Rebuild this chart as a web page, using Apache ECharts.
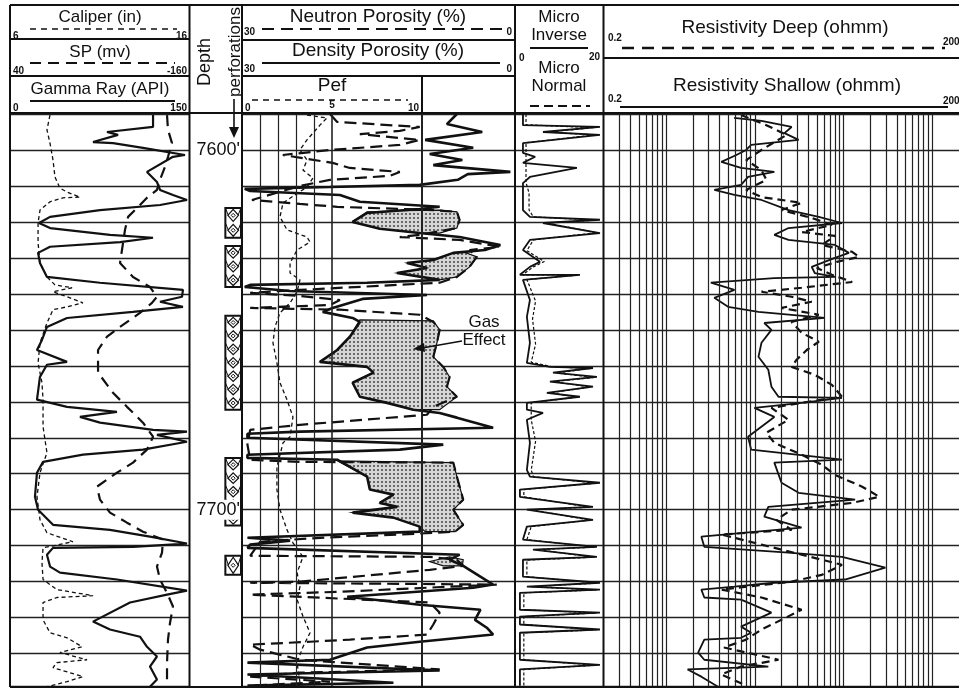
<!DOCTYPE html>
<html><head><meta charset="utf-8">
<script src="https://cdn.jsdelivr.net/npm/echarts@6/dist/echarts.min.js"></script>
<style>html,body{margin:0;padding:0;background:#fff}#c{width:959px;height:688px}</style>
</head><body><div id="c"></div>
<script>
// ---------- DATA ----------
const depthLabelValues = [7600, 7700];
const depthLabels = ["7600'", "7700'"];
const perforations = [[7616.1,7624.4],[7626.7,7638.1],[7646.1,7672.2],[7685.6,7704.4],[7712.8,7718.1]];

const gammaRay = [[119.7,7590.3],[119.7,7593.6],[80.9,7595.0],[90.2,7595.8],[69.1,7597.8],[86.0,7598.1],[111.2,7599.4],[146.6,7601.4],[136.5,7601.9],[114.6,7606.1],[123.0,7608.9],[125.6,7611.1],[136.5,7612.5],[148.3,7613.9],[125.6,7615.3],[75.0,7616.7],[32.9,7618.6],[23.6,7620.3],[32.9,7621.7],[83.4,7623.6],[119.7,7624.4],[91.9,7625.6],[32.9,7626.9],[22.8,7628.6],[24.4,7631.4],[30.3,7635.3],[75.0,7636.9],[144.9,7638.9],[144.1,7640.8],[125.6,7642.2],[144.9,7643.6],[102.8,7645.0],[47.2,7646.7],[30.3,7649.2],[26.1,7652.8],[21.9,7655.6],[47.2,7658.9],[30.3,7659.7],[24.4,7663.1],[21.9,7669.4],[47.2,7671.4],[89.3,7672.8],[58.1,7674.2],[75.0,7675.8],[119.7,7677.8],[148.3,7678.3],[123.0,7679.2],[148.3,7681.1],[111.2,7683.3],[60.7,7684.7],[27.0,7686.7],[21.9,7689.7],[20.2,7696.4],[22.8,7700.0],[35.4,7704.2],[83.4,7705.6],[117.1,7707.5],[148.3,7709.4],[102.8,7710.3],[35.4,7710.6],[30.3,7712.5],[32.9,7715.8],[41.3,7717.5],[89.3,7719.4],[148.3,7722.5],[131.5,7723.6],[100.3,7725.8],[69.1,7731.1],[83.4,7733.3],[108.7,7735.3],[114.6,7738.1],[123.0,7740.8],[117.1,7743.6],[123.0,7747.2],[117.1,7749.2]];

const spCurve = [[-135.3,7590.3],[-136.4,7594.4],[-140.9,7598.1],[-136.4,7601.9],[-133.0,7604.7],[-127.4,7608.3],[-124.0,7611.1],[-112.8,7613.3],[-104.9,7615.3],[-91.5,7618.6],[-88.1,7622.2],[-84.7,7627.8],[-82.5,7631.4],[-97.1,7635.3],[-116.2,7638.1],[-124.0,7640.8],[-118.4,7642.5],[-104.9,7645.3],[-82.5,7649.2],[-67.9,7651.9],[-57.8,7655.6],[-57.8,7661.9],[-74.6,7667.5],[-90.3,7671.4],[-93.7,7672.2],[-108.3,7675.8],[-119.6,7679.7],[-112.8,7683.3],[-97.1,7686.9],[-79.1,7689.7],[-56.6,7693.6],[-60.0,7697.2],[-71.2,7700.8],[-90.3,7703.6],[-108.3,7706.1],[-130.8,7708.3],[-129.7,7711.9],[-124.0,7715.8],[-127.4,7719.4],[-135.3,7723.1],[-142.0,7726.9],[-138.7,7731.4],[-136.4,7736.1],[-135.3,7742.5],[-135.3,7749.2]];

const caliper = [[8.19,7590.3],[8.02,7594.4],[8.19,7598.1],[8.36,7602.8],[8.47,7607.5],[8.75,7610.6],[9.15,7611.7],[9.88,7613.1],[8.92,7613.3],[8.19,7614.4],[7.63,7616.7],[7.52,7620.3],[7.52,7625.8],[7.63,7631.4],[8.02,7635.3],[8.47,7637.5],[9.43,7638.3],[8.36,7639.4],[9.15,7640.8],[10.04,7642.5],[9.15,7643.6],[8.36,7644.4],[8.02,7648.1],[7.63,7653.6],[7.52,7659.2],[7.74,7664.7],[7.80,7669.4],[7.80,7676.9],[8.02,7684.2],[7.63,7689.7],[7.46,7696.4],[7.63,7702.8],[8.02,7706.4],[9.48,7708.9],[7.80,7710.6],[7.74,7714.7],[7.80,7719.4],[8.58,7722.2],[10.61,7723.9],[8.58,7724.4],[7.80,7725.8],[7.80,7730.6],[8.19,7734.2],[9.15,7735.6],[9.99,7738.1],[8.75,7739.7],[10.27,7741.7],[8.58,7742.5],[8.36,7743.9],[10.04,7746.4],[9.15,7747.8],[8.02,7749.2]];

const densityPorosity = [[6.3,7590.0],[7.4,7592.8],[3.5,7595.0],[9.8,7597.2],[4.5,7599.4],[9.3,7601.1],[5.7,7602.8],[8.9,7604.2],[0.4,7606.1],[5.1,7606.7],[6.2,7608.3],[10.4,7609.7],[20.3,7610.3],[29.7,7610.8],[29.1,7611.4],[19.2,7612.5],[17.0,7614.4],[8.2,7615.8],[10.4,7616.4],[16.2,7617.5],[17.8,7620.0],[14.8,7621.9],[10.4,7623.1],[6.0,7624.2],[1.5,7626.4],[3.2,7627.8],[6.7,7628.6],[8.9,7630.6],[11.8,7631.4],[9.6,7632.8],[12.9,7634.2],[8.2,7636.1],[16.2,7636.9],[29.1,7637.5],[29.7,7638.1],[24.7,7639.2],[9.6,7640.3],[16.7,7641.4],[20.0,7643.9],[21.1,7645.0],[17.8,7646.7],[17.0,7647.8],[18.1,7651.9],[19.5,7655.6],[21.4,7658.9],[16.2,7660.3],[15.5,7661.9],[17.8,7664.7],[17.0,7668.6],[14.0,7670.3],[11.1,7672.2],[8.2,7673.1],[6.3,7674.4],[2.3,7677.2],[23.6,7678.3],[29.4,7678.9],[29.4,7680.0],[7.8,7681.9],[12.6,7683.3],[29.4,7684.7],[29.4,7685.6],[19.5,7686.1],[16.2,7690.8],[15.9,7694.4],[13.3,7695.8],[14.8,7698.1],[12.9,7699.2],[17.8,7700.8],[13.3,7702.2],[10.4,7704.7],[10.4,7706.1],[29.4,7707.8],[24.7,7708.6],[29.1,7709.7],[29.4,7710.6],[6.0,7712.5],[7.1,7713.9],[5.6,7715.6],[4.9,7716.7],[2.3,7720.8],[4.5,7721.7],[18.4,7724.2],[10.4,7726.4],[3.7,7727.8],[4.3,7730.6],[3.0,7732.8],[2.3,7734.7],[10.4,7736.7],[16.2,7738.3],[20.3,7741.7],[29.4,7742.5],[8.2,7744.7],[29.4,7745.8],[13.3,7748.1],[29.4,7748.9]];

const neutronPorosity = [[20.3,7590.0],[19.5,7592.2],[10.4,7593.6],[12.6,7594.7],[17.0,7595.6],[10.4,7597.2],[12.6,7598.6],[20.3,7600.0],[25.5,7601.4],[20.0,7603.6],[18.1,7605.0],[12.6,7606.1],[13.7,7607.2],[20.3,7608.3],[23.6,7610.0],[28.9,7613.9],[23.6,7615.0],[19.5,7615.8],[8.9,7616.7],[6.3,7617.2],[6.0,7619.4],[6.3,7621.7],[10.4,7623.6],[12.6,7624.2],[6.0,7625.0],[1.5,7626.9],[4.9,7627.8],[4.1,7629.7],[4.9,7632.5],[6.3,7635.3],[8.2,7636.9],[23.6,7638.9],[29.1,7639.7],[23.6,7640.6],[19.2,7641.7],[20.3,7643.1],[29.1,7643.9],[19.2,7644.4],[10.4,7645.8],[8.9,7647.8],[8.2,7650.0],[8.5,7653.6],[8.9,7657.5],[7.8,7660.3],[7.1,7663.1],[7.4,7665.8],[6.3,7668.6],[8.9,7671.4],[9.6,7673.6],[23.6,7676.4],[29.1,7677.8],[29.4,7681.9],[29.1,7686.1],[23.6,7686.7],[6.7,7686.9],[6.3,7690.8],[5.6,7697.2],[6.7,7700.0],[5.6,7704.2],[6.5,7706.1],[12.6,7706.9],[21.4,7707.8],[28.0,7708.9],[29.1,7712.8],[9.3,7713.1],[6.3,7713.9],[5.6,7715.6],[9.3,7716.7],[23.6,7720.0],[29.1,7720.3],[1.9,7720.8],[19.2,7722.8],[29.1,7723.6],[9.3,7725.8],[8.2,7728.6],[8.9,7731.9],[9.6,7734.7],[18.1,7736.1],[22.5,7736.7],[29.1,7737.5],[28.0,7738.9],[23.6,7741.7],[8.2,7744.4],[23.6,7745.3],[29.1,7746.4],[20.3,7747.8],[29.1,7748.9]];

const pef = [[3.61,7590.3],[4.72,7591.1],[4.33,7593.1],[3.61,7597.2],[3.22,7600.0],[3.61,7602.8],[3.39,7605.6],[3.94,7607.8],[3.61,7610.3],[2.28,7614.7],[2.11,7618.6],[2.5,7622.2],[3.61,7624.2],[3.78,7625.6],[3.06,7627.8],[2.67,7631.4],[2.67,7634.2],[3.22,7636.1],[3.06,7639.4],[2.67,7642.5],[2.11,7645.3],[1.83,7649.2],[1.72,7653.6],[1.94,7659.2],[2.11,7664.7],[2.5,7669.4],[2.83,7674.2],[2.67,7679.7],[2.28,7681.4],[1.94,7688.1],[1.94,7694.4],[2.11,7700.0],[2.5,7705.6],[2.83,7709.2],[3.39,7713.1],[3.06,7717.5],[3.22,7721.4],[3.06,7725.0],[3.39,7729.7],[3.78,7734.2],[3.39,7738.1],[3.06,7742.5],[3.22,7748.1]];

const gasZones = [
  [[16.2,7617.2],[12.6,7616.9],[8.2,7616.7],[6.3,7617.2],[6.0,7619.4],[6.3,7621.7],[8.2,7623.1],[10.4,7623.1],[14.8,7621.9],[17.8,7620.0]],
  [[5.6,7628.3],[4.1,7629.7],[4.9,7632.5],[6.3,7635.3],[8.2,7636.1],[12.9,7634.2],[9.6,7632.8],[11.8,7631.4],[8.9,7630.6],[6.7,7628.6]],
  [[17.0,7647.2],[18.1,7651.9],[19.5,7655.6],[21.4,7658.9],[16.2,7660.3],[15.5,7661.9],[17.8,7664.7],[17.0,7668.6],[14.0,7670.3],[11.1,7672.2],[8.2,7672.2],[6.3,7668.6],[7.4,7665.8],[7.1,7663.1],[7.8,7660.3],[8.9,7657.5],[8.5,7653.6],[8.2,7650.0],[8.9,7647.5]],
  [[19.5,7686.4],[16.2,7690.8],[15.9,7694.4],[13.3,7695.8],[14.8,7698.1],[12.9,7699.2],[17.8,7700.8],[13.3,7702.2],[10.4,7704.7],[9.8,7706.1],[6.5,7706.1],[5.6,7704.2],[6.7,7700.0],[5.6,7697.2],[6.3,7690.8],[6.7,7686.9]],
  [[9.3,7714.4],[7.1,7713.1],[5.6,7713.9],[5.7,7715.6],[7.8,7715.6]]
];

const microInverse = [[1.6,7590.0],[1.6,7593.1],[19.3,7593.6],[6.2,7595.0],[19.3,7595.8],[1.6,7598.1],[1.6,7600.8],[4.4,7601.9],[1.6,7603.6],[14.0,7605.0],[3.2,7607.5],[1.6,7609.2],[1.6,7616.7],[3.2,7618.6],[19.3,7619.4],[6.2,7620.3],[19.3,7623.1],[3.2,7625.0],[1.6,7627.8],[5.5,7631.1],[3.2,7632.5],[0.9,7634.7],[14.7,7634.7],[1.6,7636.1],[3.2,7641.7],[2.5,7646.4],[3.2,7653.6],[2.5,7659.2],[7.8,7660.3],[17.7,7660.6],[8.5,7661.9],[18.6,7663.1],[7.8,7664.4],[17.7,7665.8],[7.1,7667.5],[14.7,7668.6],[2.5,7670.3],[2.5,7672.2],[6.2,7673.1],[2.5,7675.0],[3.2,7681.4],[2.5,7688.9],[3.2,7690.8],[19.3,7692.5],[0.9,7694.4],[0.9,7696.4],[17.7,7699.2],[2.5,7700.0],[17.7,7702.8],[2.5,7704.7],[1.6,7708.3],[18.6,7710.3],[3.9,7711.1],[18.6,7713.1],[1.6,7713.9],[1.6,7718.6],[19.3,7720.3],[2.5,7721.4],[19.3,7722.2],[0.9,7723.1],[0.9,7727.8],[19.3,7728.6],[0.9,7729.7],[0.9,7731.9],[19.3,7733.3],[0.9,7734.2],[0.9,7741.7],[19.3,7743.1],[0.9,7744.4],[0.9,7748.9]];

const microNormal = [[2.3,7590],[2.3,7593],[18,7593.8],[7,7595],[18,7595.8],[2.3,7598],[2.3,7609],[3,7612],[3,7616.7],[4,7618.6],[18.5,7619.5],[7,7620.3],[18.5,7623],[4,7625],[2.5,7628],[6.5,7631],[4,7632.5],[1.5,7634.7],[14,7634.8],[2.5,7636],[4.5,7642],[3.8,7647],[4.5,7654],[3.5,7659],[8.5,7660.3],[17,7660.7],[9.5,7662],[18,7663.2],[8.5,7664.4],[17,7665.9],[8,7667.5],[14,7668.7],[3.5,7670.3],[3.5,7675],[4.5,7681],[3.5,7689],[4,7690.8],[18.5,7692.6],[1.8,7694.4],[1.8,7696.4],[17,7699.3],[3.5,7700],[17,7702.9],[3.5,7704.7],[2.5,7708.3],[18,7710.4],[4.8,7711.1],[18,7713.2],[2.5,7714],[2.5,7718.6],[18.5,7720.4],[3.5,7721.4],[18.5,7722.3],[1.8,7723.1],[1.8,7727.8],[18.5,7728.7],[1.8,7729.7],[1.8,7731.9],[18.5,7733.4],[1.8,7734.2],[1.8,7741.7],[18.5,7743.2],[1.8,7744.4],[1.8,7749]];

const resShallow = [[5.85,7591.1],[11.9,7591.9],[26.0,7593.6],[21.6,7595.3],[31.2,7597.2],[9.1,7598.6],[8.0,7600.0],[6.2,7601.4],[4.2,7603.3],[7.0,7605.0],[16.6,7606.1],[8.4,7607.5],[7.0,7609.7],[3.5,7611.1],[5.9,7612.5],[11.9,7613.9],[24.0,7616.7],[52.6,7618.6],[96,7620.3],[24.0,7621.7],[16.6,7623.6],[24.0,7625.0],[80,7626.4],[115,7628.6],[80,7630.0],[43.8,7632.5],[47.4,7634.2],[80,7635.3],[16.6,7635.6],[3.2,7636.9],[5.9,7638.9],[3.5,7641.1],[5.0,7643.6],[11.0,7645.0],[61.6,7646.7],[12.8,7648.1],[15.4,7650.0],[11.9,7653.6],[11.0,7657.5],[14.2,7661.1],[15.4,7665.8],[18.5,7668.6],[96,7668.9],[33.7,7670.3],[9.9,7671.7],[16.6,7674.2],[8.4,7679.7],[9.1,7683.3],[96,7686.1],[16.6,7686.9],[20.0,7692.5],[31.2,7695.3],[135,7697.2],[14.2,7699.2],[12.8,7701.9],[33.7,7705.0],[2.5,7707.5],[2.7,7710.3],[24.0,7711.9],[96,7713.1],[296,7716.1],[104,7719.4],[16.6,7720.3],[5.9,7721.4],[2.5,7722.2],[2.7,7724.4],[7.0,7725.0],[15.4,7728.6],[7.0,7732.5],[9.1,7734.2],[7.0,7735.6],[2.7,7736.1],[2.3,7739.7],[2.7,7741.7],[14.2,7743.6],[1.75,7744.4],[2.5,7746.4],[3.85,7749.2]];

const resDeep = [[7.0,7590.3],[13.5,7593.1],[22.8,7595.8],[11.9,7600.0],[8.0,7602.8],[11.9,7605.6],[13.5,7608.3],[8.0,7611.1],[11.9,7613.1],[33.7,7614.7],[20.0,7616.7],[43.8,7618.9],[74,7620.8],[33.7,7622.8],[80,7623.9],[57,7626.4],[125,7628.3],[150,7629.7],[84,7631.1],[50,7632.8],[74,7634.7],[125,7636.7],[33.7,7638.3],[11.9,7639.4],[26.0,7640.8],[43.8,7642.2],[20.0,7643.9],[52.6,7645.8],[26.0,7647.8],[33.7,7650.8],[52.6,7653.3],[38.5,7655.6],[29.6,7658.3],[26.0,7660.3],[47.4,7662.5],[74,7665.3],[96,7668.6],[33.7,7670.3],[15.4,7671.7],[24.0,7675.0],[13.5,7678.6],[16.6,7681.4],[33.7,7684.7],[57,7687.5],[80,7690.3],[162,7693.6],[253,7696.4],[125,7698.1],[26.0,7700.0],[17.5,7702.8],[26.0,7705.6],[4.2,7706.9],[11.9,7709.7],[33.7,7712.5],[96,7715.3],[57,7718.1],[26.0,7720.0],[4.2,7722.2],[11.9,7724.4],[33.7,7727.8],[20.0,7730.6],[11.9,7733.3],[8.0,7736.1],[4.5,7738.3],[18.5,7741.7],[7.0,7743.6],[4.2,7745.8],[8.0,7748.9]];

const resGridValues = [0.3,0.4,0.5,0.6,0.7,0.8,0.9,1,2,3,4,5,6,7,8,9,10,20,30,40,50,60,70,80,90,100,200,300,400,500,600,700,800,900,1000];
const pefGridValues = [1,2,3,4,5,10];

// ---------- CHART ----------
const FONT = "'Liberation Sans', Arial, sans-serif";
const INK = '#111';
const DMIN = 7590, DMAX = 7749;

const pc = document.createElement('canvas');
pc.width = 4; pc.height = 4;
const pctx = pc.getContext('2d');
pctx.fillStyle = '#d6d6d6'; pctx.fillRect(0,0,4,4);
pctx.fillStyle = '#6a6a6a'; pctx.fillRect(1,1,2,2);
const gasPattern = {image: pc, repeat: 'repeat'};

function yax(gi, split){
  return {type:'value', gridIndex:gi, min:DMIN, max:DMAX, interval:10, inverse:true,
    axisLine:{show:false}, axisTick:{show:false}, axisLabel:{show:false},
    splitLine:{show:split, lineStyle:{color:'#222', width:1.3}}};
}
function xax(gi, o){
  return Object.assign({type:'value', gridIndex:gi, axisLine:{show:false}, axisTick:{show:false},
    axisLabel:{show:false}, splitLine:{show:false}}, o);
}
function ln(xi, yi, data, style, extra){
  return Object.assign({type:'line', xAxisIndex:xi, yAxisIndex:yi, data:data, symbol:'none',
    lineStyle:Object.assign({color:INK}, style), silent:true, animation:false, z:3}, extra||{});
}
function vlines(vals, widthFn){
  return {symbol:['none','none'], silent:true, animation:false, label:{show:false},
    lineStyle:{color:'#222', width:1.2, type:'solid'},
    emphasis:{disabled:true},
    data: vals.map(v=>({xAxis:v, lineStyle:{color:'#222', type:'solid', width: widthFn ? widthFn(v) : 1.2}}))};
}

const G = [];
function L(x1,y1,x2,y2,w,dash){ G.push({type:'line', silent:true, z:100, shape:{x1,y1,x2,y2}, style:{stroke:INK, lineWidth:w||2, lineDash:dash||null}}); }
function T(text,x,y,size,align,rot,bold){
  G.push({type:'text', silent:true, z:101, x:x, y:y, rotation:rot||0,
    style:{text:text, font:(bold?'bold ':'')+size+'px '+FONT, fill:INK, align:align||'center', verticalAlign:'middle', textAlign:align||'center', textVerticalAlign:'middle'}});
}

// frame
L(10,5,959,5,2); L(10,5,10,687,2); L(10,687,959,687,2); L(10,113,959,113,2);
L(189.5,5,189.5,687,2); L(242,5,242,687,2); L(515,5,515,687,2); L(603.5,5,603.5,687,2);
L(10,39,189.5,39,2); L(10,76,189.5,76,2);
L(242,40,515,40,2); L(242,76,515,76,2); L(422,76,422,113,2);
L(603.5,58,959,58,2);
// track 1 header
T('Caliper (in)',100,17,17); L(30,29,177,29,1.6,[6,5]);
T('6',13,36,10,'left',0,true); T('16',187,36,10,'right',0,true);
T('SP (mv)',100,52,17); L(30,63,175,63,2.2,[11,7]);
T('40',13,71,10,'left',0,true); T('-160',187,71,10,'right',0,true);
T('Gamma Ray (API)',100,89,17); L(30,101,175,101,2);
T('0',13,108,10,'left',0,true); T('150',187,108,10,'right',0,true);
// depth header
T('Depth',205,62,18,'center',Math.PI/2); T('perforations',235,52,17,'center',Math.PI/2);
L(234,99,234,131,1.6);
G.push({type:'polygon', silent:true, z:101, shape:{points:[[229,127],[239,127],[234,138]]}, style:{fill:INK}});
// track 2 header
T('Neutron Porosity (%)',378,17,19); L(262,29,505,29,2,[12,7]);
T('30',244,32,10,'left',0,true); T('0',512,32,10,'right',0,true);
T('Density Porosity (%)',378,51,19); L(262,63,500,63,2);
T('30',244,69,10,'left',0,true); T('0',512,69,10,'right',0,true);
T('Pef',332,86,19); L(252,100,408,100,1.6,[6,5]);
T('0',245,108,10,'left',0,true); T('5',332,105,10,'center',0,true); T('10',419,108,10,'right',0,true);
// micro header
T('Micro',559,17,17); T('Inverse',559,35,17); L(530,48,588,48,2);
T('0',519,58,10,'left',0,true); T('20',600,57,10,'right',0,true);
T('Micro',559,68,17); T('Normal',559,86,17); L(530,106,590,106,2,[9,5]);
// resistivity header
T('Resistivity Deep (ohmm)',785,28,19);
T('0.2',608,38,10,'left',0,true); T('2000',943,42,10,'left',0,true);
L(622,48,945,48,2.5,[12,8]);
T('Resistivity Shallow (ohmm)',787,86,19);
T('0.2',608,99,10,'left',0,true); T('2000',943,101,10,'left',0,true);
L(620,107,948,107,2);
// gas effect annotation
T('Gas',484,322,17); T('Effect',484,340,17);
L(462,341,422,348,1.6);
G.push({type:'polygon', silent:true, z:101, shape:{points:[[413,349],[424,343],[425,352]]}, style:{fill:INK}});

const option = {
  animation:false,
  backgroundColor:'#fff',
  grid:[
    {left:11, top:114, width:178, height:572},
    {left:190, top:114, width:52, height:572},
    {left:242, top:114, width:272, height:572},
    {left:242, top:114, width:180, height:572},
    {left:516, top:114, width:87, height:572},
    {left:604, top:114, width:356, height:572}
  ],
  xAxis:[
    xax(0,{min:0,max:150}),
    xax(0,{min:-160,max:40,inverse:true}),
    xax(0,{min:6,max:16}),
    xax(1,{min:0,max:1}),
    xax(2,{min:0,max:30,inverse:true}),
    xax(3,{min:0,max:10}),
    xax(4,{min:0,max:20}),
    xax(5,{type:'log', logBase:10, min:0.2, max:2000})
  ],
  yAxis:[
    yax(0,true),
    {type:'value', gridIndex:1, min:DMIN, max:DMAX, interval:10, inverse:true, position:'right', z:20,
      axisLine:{show:false}, axisTick:{show:false}, splitLine:{show:false},
      axisLabel:{show:true, inside:true, margin:2, fontSize:18, fontFamily:FONT, color:INK,
        backgroundColor:'#fff', padding:[1,0,1,1],
        formatter:function(v){ const i = depthLabelValues.indexOf(v); return i>=0 ? depthLabels[i] : ''; }}},
    yax(2,true),
    yax(3,false),
    yax(4,true),
    yax(5,true)
  ],
  graphic:{elements:G},
  series:[
    // perforations
    {type:'custom', xAxisIndex:3, yAxisIndex:1, silent:true, animation:false, z:1,
      data: perforations.map(p=>[0.84, p[0], p[1]]),
      encode:{x:0, y:[1,2]},
      renderItem:function(params, api){
        const a = api.coord([0.68, api.value(1)]);
        const b = api.coord([1, api.value(2)]);
        const x0=a[0], y0=a[1], x1=b[0]-1, y1=b[1];
        const n = Math.max(1, Math.round((y1-y0)/13));
        const h = (y1-y0)/n, cx=(x0+x1)/2;
        const ch = [{type:'rect', shape:{x:x0,y:y0,width:x1-x0,height:y1-y0}, style:{fill:'#fff', stroke:INK, lineWidth:2}}];
        for(let i=0;i<n;i++){
          const t=y0+i*h, bt=t+h, cy=t+h/2;
          ch.push({type:'polygon', shape:{points:[[cx,t+1.5],[x1-2.5,cy],[cx,bt-1.5],[x0+2.5,cy]]}, style:{fill:'none', stroke:INK, lineWidth:1.2}});
          ch.push({type:'polygon', shape:{points:[[cx,cy-2],[cx+2,cy],[cx,cy+2],[cx-2,cy]]}, style:{fill:'none', stroke:INK, lineWidth:1}});
          ch.push({type:'line', shape:{x1:x0,y1:t,x2:x0+3,y2:cy}, style:{stroke:INK, lineWidth:1}});
          ch.push({type:'line', shape:{x1:x1,y1:t,x2:x1-3,y2:cy}, style:{stroke:INK, lineWidth:1}});
        }
        return {type:'group', children:ch};
      }},
    // gas shading
    {type:'custom', xAxisIndex:4, yAxisIndex:2, silent:true, animation:false, z:2,
      data: gasZones.map((z,i)=>[15, 7650, i]),
      encode:{x:0, y:1},
      renderItem:function(params, api){
        const z = gasZones[params.dataIndex];
        return {type:'polygon', shape:{points:z.map(p=>api.coord(p))}, style:{fill:gasPattern, stroke:INK, lineWidth:1.2}};
      }},
    // track 1
    ln(2,0,caliper,{width:1.3, type:[4,3]}),
    ln(1,0,spCurve,{width:2.2, type:[11,7]}),
    ln(0,0,gammaRay,{width:2.2}),
    // track 2
    ln(5,3,pef,{width:1.3, type:[4,3]}, {markLine: vlines(pefGridValues, v=> v===10 ? 2 : (v===5 ? 1.6 : 1.2))}),
    ln(4,2,neutronPorosity,{width:2.2, type:[12,6]}),
    ln(4,2,densityPorosity,{width:2.6}),
    // micro
    ln(6,4,microNormal,{width:1.2, type:[3,2]}),
    ln(6,4,microInverse,{width:1.8}),
    // resistivity
    ln(7,5,resShallow,{width:1.8}, {markLine: vlines(resGridValues)}),
    ln(7,5,resDeep,{width:2.2, type:[8,5]})
  ]
};

const chart = echarts.init(document.getElementById('c'), null, {renderer:'canvas', width:959, height:688});
chart.setOption(option);
</script></body></html>
